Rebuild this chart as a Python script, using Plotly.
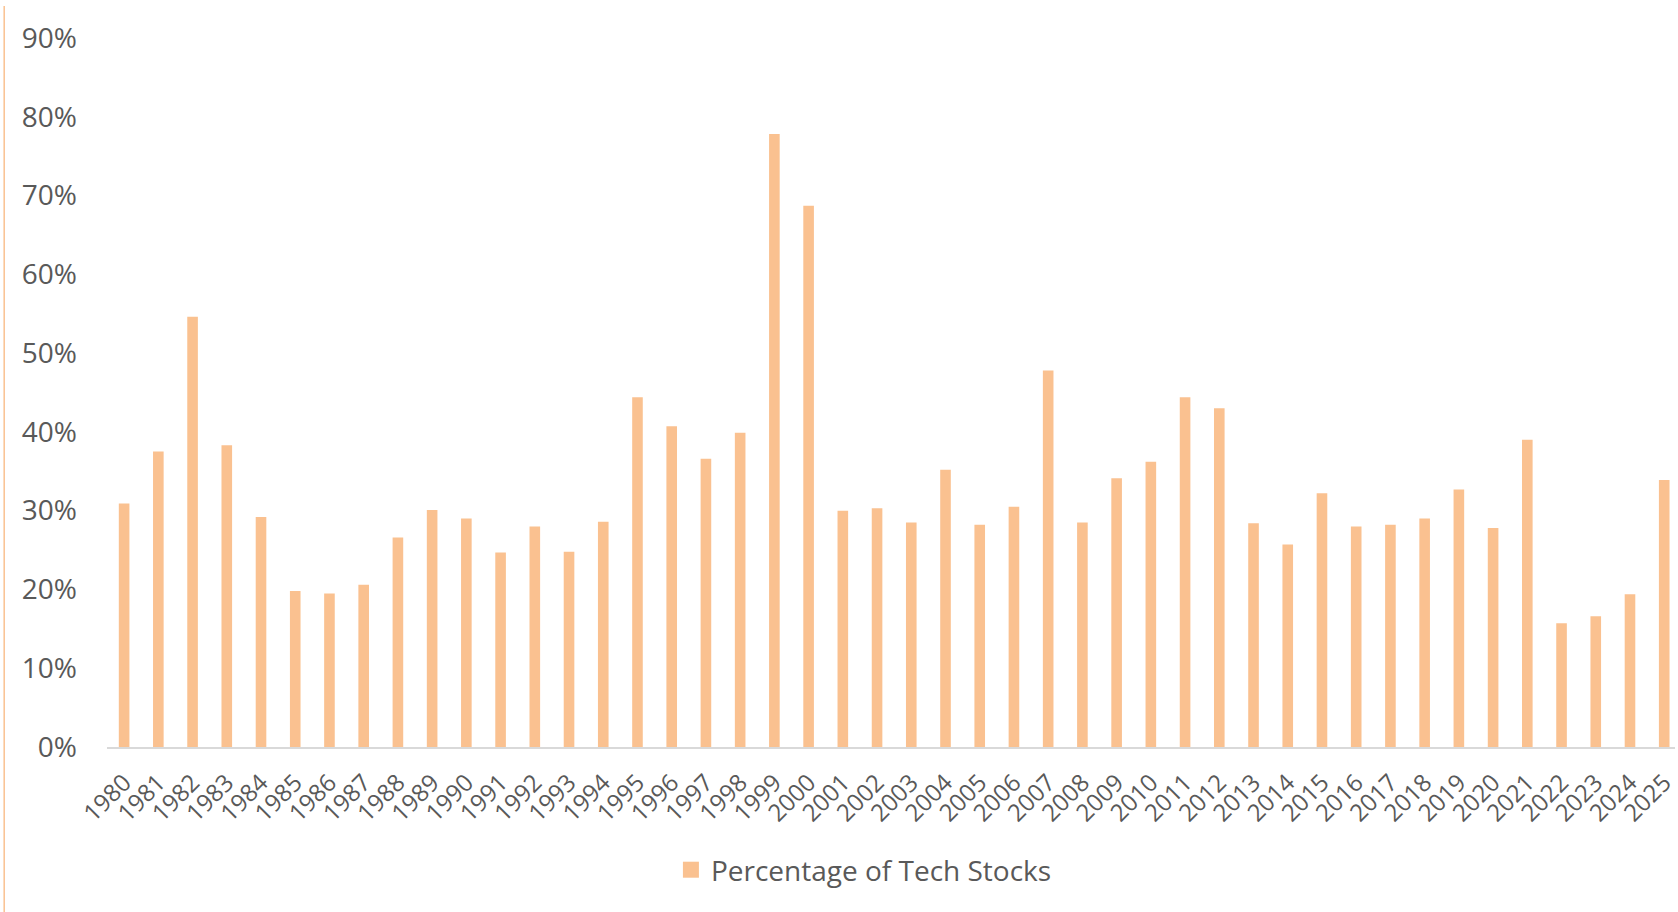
import plotly.graph_objects as go

years = [str(y) for y in range(1980, 2026)]
tech_share = [0.309, 0.375, 0.546, 0.383, 0.292, 0.198, 0.195, 0.206, 0.266, 0.301,
              0.290, 0.247, 0.280, 0.248, 0.286, 0.444, 0.407, 0.366, 0.399, 0.778,
              0.687, 0.300, 0.303, 0.285, 0.352, 0.282, 0.305, 0.478, 0.285, 0.341,
              0.362, 0.444, 0.430, 0.284, 0.257, 0.322, 0.280, 0.282, 0.290, 0.327,
              0.278, 0.390, 0.157, 0.166, 0.194, 0.339]
series_name = "Percentage of Tech Stocks"
y_ticks = [i / 10 for i in range(10)]
y_tick_text = [f"{i*10}%" for i in range(10)]

BAR = "#FAC190"
TXT = "#595959"
FONT = "Open Sans"

W, H = 1678, 912
L, R, T, B = 107, 0, 38, 165
pw = W - L - R
ph = H - T - B
cat_px = 34.29  # pixel width per category in the reference
x_range = [-0.5, -0.5 + pw / cat_px]

fig = go.Figure()
fig.add_trace(go.Bar(x=years, y=tech_share, name=series_name, marker_color=BAR,
                     marker_line_width=0, showlegend=False))
fig.add_trace(go.Scatter(x=[None], y=[None], mode="markers", name=series_name,
                         marker=dict(symbol="square", size=18, color=BAR)))

fig.update_layout(
    width=W, height=H,
    margin=dict(l=L, r=R, t=T, b=B, pad=0),
    paper_bgcolor="white", plot_bgcolor="white",
    bargap=0.69,
    font=dict(family=FONT, color=TXT),
    legend=dict(orientation="h", x=(684 - 12 - L) / pw, xanchor="left",
                y=(H - B - 870) / ph, yanchor="middle",
                font=dict(size=28, color=TXT, family=FONT),
                bgcolor="rgba(0,0,0,0)"),
    xaxis=dict(type="category", range=x_range, tickangle=-45,
               tickfont=dict(size=24, color=TXT),
               showline=True, linecolor="#D9D9D9", linewidth=2, ticks="",
               showgrid=False, ticklabelstandoff=10),
    yaxis=dict(range=[0, 0.9], tickvals=y_ticks, ticktext=y_tick_text,
               tickfont=dict(size=28, color=TXT), showgrid=False, zeroline=False,
               showline=False, ticks="", ticklabelstandoff=29),
)

fig.add_shape(type="line", xref="paper", yref="paper",
              x0=(4 - L) / pw, x1=(4 - L) / pw,
              y0=(H - B - 6) / ph, y1=(H - B - 912) / ph,
              line=dict(color="#FAC190", width=1.5))

fig.write_html("out.html", config={"displayModeBar": False},
               post_script="document.body.style.margin='0';")
